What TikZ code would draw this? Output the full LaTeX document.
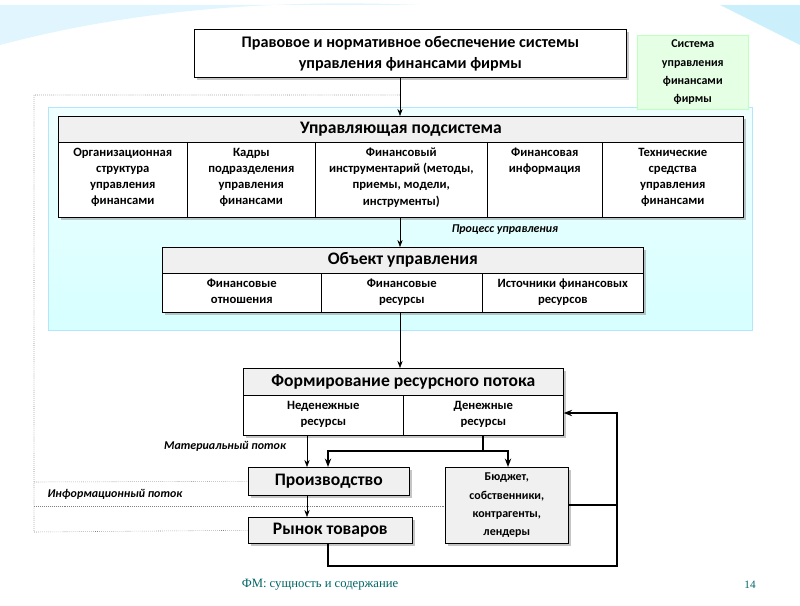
\documentclass[tikz,border=0pt]{standalone}
\usepackage{fontspec}
\setmainfont{Carlito}
\newfontfamily\footfont{Liberation Serif}
\usetikzlibrary{positioning, shadows, arrows.meta}

\begin{document}
\begin{tikzpicture}[
    x=0.025cm, y=-0.025cm,
    frame/.style={draw, fill=white, anchor=north west, inner sep=0pt, drop shadow={shadow xshift=2pt, shadow yshift=-2pt, opacity=.45}},
    head/.style={draw, fill=gray!12, anchor=north west, inner sep=0pt, font=\fontsize{12.5}{14}\selectfont\bfseries},
    cell/.style={draw, fill=white, anchor=north west, inner sep=0pt},
    ctext/.style={anchor=north, align=center, inner sep=2pt, yshift=-2pt, font=\fontsize{9}{11.5}\selectfont\bfseries},
    note/.style={font=\fontsize{8.5}{10}\selectfont\bfseries\itshape},
    flow/.style={-{Stealth[length=5pt]}, thin},
    thick flow/.style={-{Stealth[length=6pt]}, line width=1.8pt},
    info/.style={densely dotted, gray},
]

% Background
\fill[white] (0,0) rectangle (800,600);
\fill[cyan!12] (0,40) .. controls (150,0) and (300,-5) .. (420,0) -- (0,0) -- cycle;
\fill[cyan!20] (720,0) .. controls (760,20) and (780,30) .. (800,40) -- (800,0) -- cycle;
\shade[top color=cyan!6, bottom color=cyan!16] (48,102) rectangle (752,325);
\draw[cyan!30] (48,102) rectangle (752,325);

% Nodes
\node[frame, minimum width=10.8cm, minimum height=1.2cm, font=\fontsize{11.5}{15}\selectfont\bfseries, align=center]
    (law) at (194,24) {Правовое и нормативное обеспечение системы\\управления финансами фирмы};
\node[anchor=north west, fill=green!10, draw=green!25, minimum width=2.775cm, minimum height=1.75cm, align=center,
    font=\fontsize{8.5}{13}\selectfont\bfseries] (sys) at (637,30) {Система\\управления\\финансами\\фирмы};

% Управляющая подсистема
\node[frame, minimum width=17.125cm, minimum height=2.525cm] (ctrl) at (58,111) {};
\node[head, minimum width=17.125cm, minimum height=0.65cm] (ctrlh) at (58,111) {Управляющая подсистема};
\node[cell, minimum width=3.225cm, minimum height=1.875cm, label={[ctext]north:Организационная\\структура\\управления\\финансами}] (c1) at (58,137) {};
\node[cell, minimum width=3.2cm, minimum height=1.875cm, label={[ctext]north:Кадры\\подразделения\\управления\\финансами}] (c2) at (187,137) {};
\node[cell, minimum width=4.3cm, minimum height=1.875cm, label={[ctext]north:Финансовый\\инструментарий (методы,\\приемы, модели,\\инструменты)}] (c3) at (315,137) {};
\node[cell, minimum width=2.875cm, minimum height=1.875cm, label={[ctext]north:Финансовая\\информация}] (c4) at (487,137) {};
\node[cell, minimum width=3.525cm, minimum height=1.875cm, label={[ctext]north:Технические\\средства\\управления\\финансами}] (c5) at (602,137) {};

% Объект управления
\node[frame, minimum width=12.025cm, minimum height=1.625cm] (obj) at (162,242) {};
\node[head, minimum width=12.025cm, minimum height=0.65cm] (objh) at (162,242) {Объект управления};
\node[cell, minimum width=3.975cm, minimum height=0.975cm, label={[ctext]north:Финансовые\\отношения}] (o1) at (162,268) {};
\node[cell, minimum width=4.025cm, minimum height=0.975cm, label={[ctext]north:Финансовые\\ресурсы}] (o2) at (321,268) {};
\node[cell, minimum width=4.025cm, minimum height=0.975cm, label={[ctext]north:Источники финансовых\\ресурсов}] (o3) at (482,268) {};

% Формирование ресурсного потока
\node[frame, minimum width=8cm, minimum height=1.675cm] (res) at (243,363) {};
\node[head, minimum width=8cm, minimum height=0.675cm] (resh) at (243,363) {Формирование ресурсного потока};
\node[cell, minimum width=4cm, minimum height=1cm, label={[ctext]north:Неденежные\\ресурсы}] (r1) at (243,390) {};
\node[cell, minimum width=4cm, minimum height=1cm, label={[ctext]north:Денежные\\ресурсы}] (r2) at (403,390) {};

\node[head, minimum width=4.025cm, minimum height=0.7cm, drop shadow={shadow xshift=2pt, shadow yshift=-2pt, opacity=.45}] (prod) at (248,462) {Производство};
\node[head, minimum width=4.1cm, minimum height=0.65cm, drop shadow={shadow xshift=2pt, shadow yshift=-2pt, opacity=.45}] (mkt) at (248,512) {Рынок товаров};
\node[cell, fill=gray!12, minimum width=3.075cm, minimum height=1.9cm, align=center, font=\fontsize{8.5}{13}\selectfont\bfseries,
    drop shadow={shadow xshift=2pt, shadow yshift=-2pt, opacity=.45}] (bud) at (445,462) {Бюджет,\\собственники,\\контрагенты,\\лендеры};

% Labels
\node[note] (proc) at (505,225) {Процесс управления};
\node[note] (mat) at (225,441) {Материальный поток};
\node[note] (inf) at (115,489) {Информационный поток};
\node[font=\footfont\fontsize{9}{10}\selectfont, text=teal!80!black] (foot) at (320,580) {ФМ: сущность и содержание};
\node[font=\footfont\fontsize{8}{10}\selectfont, text=teal!80!black] (page) at (750,580) {14};

% Lines
\coordinate (top) at (400,90);
\draw[info] (top) -- (34,90) -- (34,527) -- (mkt.west);
\draw[info] (34,477) -- (prod.west);
\draw[info] (34,501) -- (bud.west |- 0,501);
\draw[flow] (law.south -| top) -- (ctrlh.north -| top);
\draw[flow] (c3.south -| top) -- (objh.north -| top);
\draw[flow] (o2.south -| top) -- (resh.north -| top);
\draw[flow] (r1.south -| 307,0) -- (prod.north -| 307,0);
\draw[flow] (prod.south -| 307,0) -- (mkt.north -| 307,0);
\coordinate (split) at (483,446);
\coordinate (ret) at (617,408);
\draw[line width=1.8pt] (r2.south -| split) -- (split);
\draw[thick flow] (split) -| (prod.north -| 328,0);
\draw[thick flow] (split) -| (bud.north -| 508,0);
\draw[line width=1.8pt] (bud.east |- 0,500) -| (ret);
\draw[thick flow] (mkt.south -| 328,0) |- (617,561) -- (ret) -- (ret -| res.east);

\end{tikzpicture}
\end{document}
